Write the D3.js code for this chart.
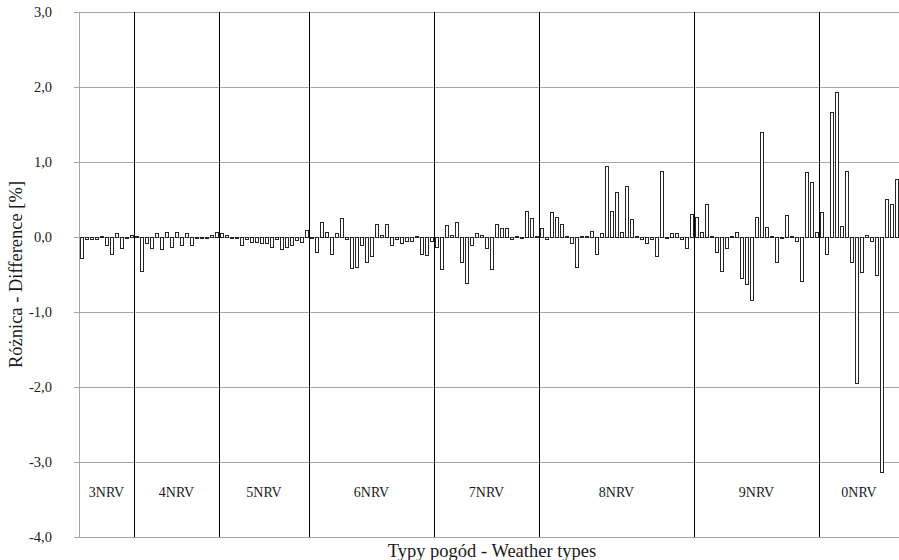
<!DOCTYPE html>
<html>
<head>
<meta charset="utf-8">
<script src="https://cdn.jsdelivr.net/npm/d3@7"></script>
<style>
  body { margin: 0; background: #fff; }
  text { font-family: "Liberation Serif", "Times New Roman", serif; fill: #1a1a1a; }
</style>
</head>
<body>
<div id="chart"></div>
<script>
const groups = ['3NRV', '4NRV', '5NRV', '6NRV', '7NRV', '8NRV', '9NRV', '0NRV'];

const nrv3 = [-0.28, -0.03, -0.03, -0.03, 0.02, -0.11, -0.23, 0.05, -0.14, -0.02, 0.03];
const nrv4 = [0.01, -0.45, -0.08, -0.15, 0.05, -0.16, 0.07, -0.13, 0.07, -0.11, 0.05, -0.11, -0.02, -0.02, -0.01, 0.03, 0.07];
const nrv5 = [0.06, 0.03, -0.01, -0.02, -0.11, -0.03, -0.06, -0.06, -0.08, -0.08, -0.13, -0.03, -0.16, -0.13, -0.1, -0.04, -0.06, 0.1];
const nrv6 = [-0.01, -0.2, 0.2, 0.07, -0.23, 0.05, 0.25, -0.03, -0.41, -0.4, -0.1, -0.33, -0.26, 0.18, 0.03, 0.17, -0.11, -0.03, -0.08, -0.05, -0.05, 0.02, -0.22, -0.24, -0.05];
const nrv7 = [-0.13, -0.42, 0.16, 0.03, 0.2, -0.33, -0.61, -0.11, 0.06, 0.03, -0.14, -0.42, 0.18, 0.12, 0.12, -0.03, 0.02, -0.01, 0.35, 0.25, 0.02];
const nrv8 = [0.12, -0.03, 0.33, 0.27, 0.17, 0.02, -0.08, -0.4, 0.02, 0.02, 0.08, -0.23, 0.05, 0.95, 0.35, 0.6, 0.07, 0.68, 0.24, 0.02, -0.03, -0.08, -0.03, -0.25, 0.88, -0.02, 0.05, 0.05, -0.03, -0.14, 0.31];
const nrv9 = [0.27, 0.07, 0.44, 0.02, -0.2, -0.45, -0.15, 0.02, 0.07, -0.55, -0.63, -0.84, 0.27, 1.4, 0.14, 0.02, -0.33, -0.02, 0.3, 0.02, -0.05, -0.58, 0.87, 0.73, 0.07];
const nrv0 = [0.33, -0.23, 1.66, 1.94, 0.15, 0.88, -0.33, -1.94, -0.47, 0.03, -0.05, -0.5, -3.13, 0.5, 0.44, 0.77];

const yTicks = [-4, -3, -2, -1, 0, 1, 2, 3];

const groupValues = [nrv3, nrv4, nrv5, nrv6, nrv7, nrv8, nrv9, nrv0];

// flatten into one list of bars, remembering where each group starts
const bars = [];
const groupInfo = [];
groupValues.forEach((vals, g) => {
    groupInfo.push({ name: groups[g], start: bars.length, count: vals.length });
    vals.forEach(v => bars.push({ group: groups[g], value: v }));
});

const margin = { top: 12, right: 0, bottom: 23, left: 79 };
const width = 899 - margin.left - margin.right;
const height = 560 - margin.top - margin.bottom;

const svg = d3.select('#chart')
    .append('svg')
    .attr('width', 899)
    .attr('height', 560)
    .append('g')
    .attr('transform', `translate(${margin.left},${margin.top})`);

const xScale = d3.scaleBand()
    .domain(d3.range(bars.length))
    .range([0, width])
    .padding(0);

const yScale = d3.scaleLinear()
    .domain([-4, 3])
    .range([height, 0]);

// horizontal gridlines
svg.append('g')
    .attr('class', 'grid')
    .call(d3.axisLeft(yScale)
        .tickValues(yTicks)
        .tickSize(-width)
        .tickFormat(''))
    .call(g => g.select('.domain').remove())
    .call(g => g.selectAll('line').attr('stroke', '#a6a6a6'));

// value axis
svg.append('g')
    .attr('class', 'y-axis')
    .call(d3.axisLeft(yScale)
        .tickValues(yTicks)
        .tickSize(5)
        .tickSizeOuter(0)
        .tickPadding(22)
        .tickFormat(d => d.toFixed(1).replace('.', ',')))
    .call(g => g.select('.domain').attr('stroke', '#a6a6a6'))
    .call(g => g.selectAll('line').attr('stroke', '#a6a6a6'))
    .call(g => g.selectAll('text')
        .style('font-size', '14.5px')
        .style('font-family', '"Liberation Serif", serif')
        .attr('fill', '#1a1a1a'));

// bars
const y0 = Math.round(yScale(0));
svg.selectAll('.bar')
    .data(bars)
    .enter()
    .append('rect')
    .attr('class', 'bar')
    .attr('x', (d, i) => Math.round(xScale(i)) + 1.5)
    .attr('width', 3)
    .attr('y', d => Math.min(Math.round(yScale(d.value)), y0) + 0.5)
    .attr('height', d => Math.max(Math.abs(Math.round(yScale(d.value)) - y0), 1))
    .attr('fill', '#fff')
    .attr('stroke', '#262626')
    .attr('stroke-width', 1);

// group separators
svg.selectAll('.sep')
    .data(groupInfo.slice(1))
    .enter()
    .append('line')
    .attr('class', 'sep')
    .attr('x1', d => Math.round(xScale(d.start)) + 0.5)
    .attr('x2', d => Math.round(xScale(d.start)) + 0.5)
    .attr('y1', 0)
    .attr('y2', height)
    .attr('stroke', '#000')
    .attr('stroke-width', 1);

// group labels
svg.selectAll('.group-label')
    .data(groupInfo)
    .enter()
    .append('text')
    .attr('class', 'group-label')
    .attr('x', d => (xScale(d.start) + xScale(d.start + d.count - 1) + xScale.bandwidth()) / 2)
    .attr('y', height - 40)
    .attr('text-anchor', 'middle')
    .style('font-size', '14px')
    .text(d => d.name);

// axis titles
svg.append('text')
    .attr('transform', 'rotate(-90)')
    .attr('x', -height / 2)
    .attr('y', -margin.left + 22)
    .attr('text-anchor', 'middle')
    .style('font-size', '18.5px')
    .text('Różnica - Difference [%]');

svg.append('text')
    .attr('x', width / 2 + 3)
    .attr('y', height + 20)
    .attr('text-anchor', 'middle')
    .style('font-size', '18.5px')
    .text('Typy pogód - Weather types');
</script>
</body>
</html>
